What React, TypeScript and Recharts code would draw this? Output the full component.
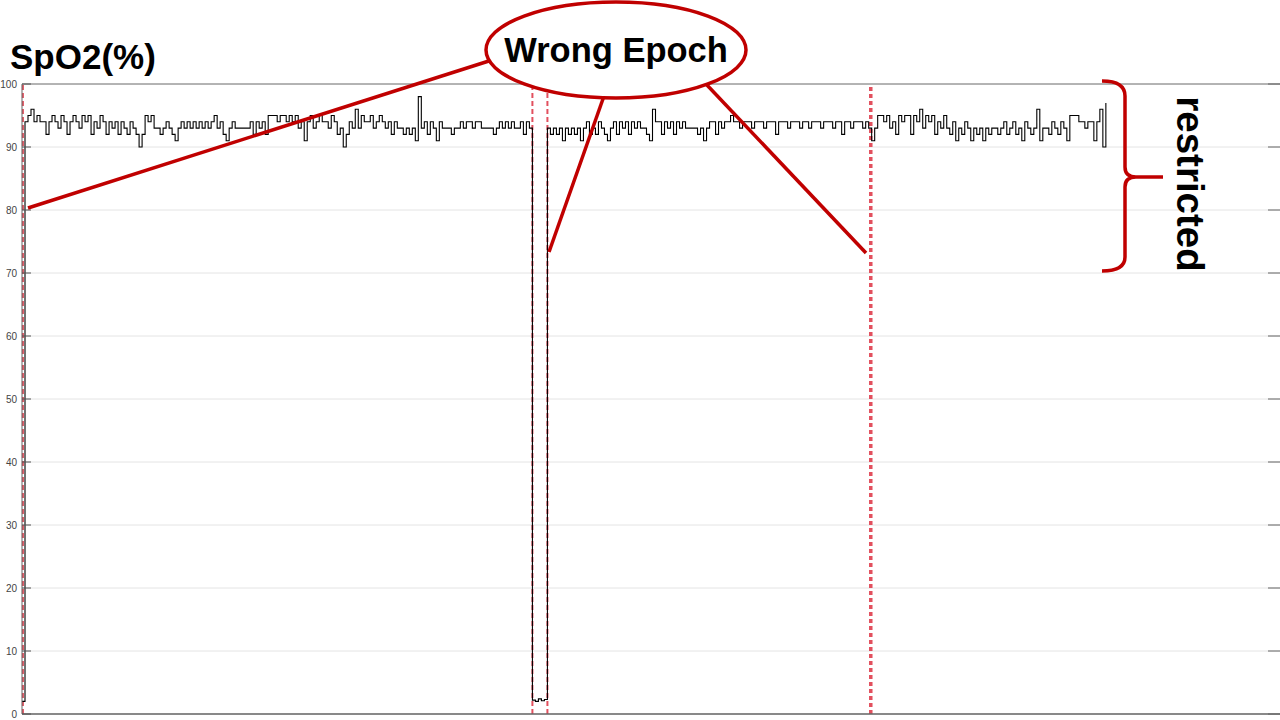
import { LineChart, Line, XAxis, YAxis, CartesianGrid, ReferenceLine } from 'recharts'

// SpO2 samples, one value per epoch step
const leadIn = [2]

const recordingA = [
  94, 95, 96, 94, 95, 94, 94, 92, 94, 95,
  94, 93, 95, 94, 92, 94, 95, 94, 93, 95,
  94, 95, 92, 94, 93, 95, 94, 92, 94, 93,
  94, 92, 94, 93, 92, 94, 93, 92, 90, 92,
  95, 94, 95, 93, 93, 92, 93, 94, 93, 92,
  91, 93, 94, 93, 94, 93, 94, 93, 94, 93,
  94, 93, 94, 95, 93, 94, 92, 91, 93, 94,
  93, 93, 93, 93, 93, 94, 92, 94, 93, 94,
  92, 95, 95, 95, 94, 95, 95, 94, 95, 94,
  95, 93, 94, 91, 94, 95, 93, 94, 95, 94,
  94, 93, 95, 94, 92, 93, 90, 92, 94, 93,
  96, 93, 95, 94, 94, 95, 93, 94, 95, 94,
  93, 94, 92, 94, 93, 93, 92, 93, 92, 93,
  91, 98, 93, 94, 92, 94, 93, 91, 94, 93,
  93, 93, 92, 93, 93, 94, 93, 94, 94, 93,
  94, 94, 93, 93, 93, 93, 92, 93, 94, 93,
  94, 93, 94, 93, 93, 94, 92, 94, 93,
]

const wrongEpoch = [2.2, 2.0, 2.4, 2.1, 2.3]

const recordingB = [
  93, 92, 93, 92, 93, 91, 93, 92, 93, 92,
  93, 91, 93, 94, 92, 93, 92, 94, 93, 92,
  91, 93, 94, 92, 94, 93, 94, 92, 94, 93,
  94, 93, 93, 92, 91, 96, 94, 94, 92, 94,
  93, 94, 92, 94, 93, 94, 93, 93, 93, 93,
  92, 93, 91, 93, 94, 94, 92, 94, 93, 94,
  94, 95, 94, 94, 93, 94, 94, 94, 93, 94,
  94, 94, 93, 94, 94, 94, 92, 94, 94, 94,
  93, 94, 94, 94, 93, 94, 94, 93, 94, 94,
  94, 93, 94, 94, 94, 93, 94, 94, 92, 94,
  94, 93, 94, 94, 94, 93, 94, 93, 91, 93,
  95, 95, 94, 95, 93, 94, 92, 95, 94, 95,
  95, 92, 95, 94, 96, 93, 95, 94, 95, 92,
  94, 93, 95, 93, 92, 94, 91, 93, 92, 94,
  93, 91, 93, 92, 93, 91, 93, 92, 93, 93,
  92, 93, 94, 92, 93, 94, 92, 93, 91, 94,
  93, 92, 93, 96, 91, 93, 93, 92, 94, 93,
  92, 94, 93, 91, 95, 95, 95, 94, 94, 93,
  94, 94, 91, 94, 96, 90, 97,
]

const yTicks = [0, 10, 20, 30, 40, 50, 60, 70, 80, 90, 100]
const epochMarks = [0.3, 170, 175]
const restrictedMark = 282.7
const xMax = 419

const samples = [...leadIn, ...recordingA, ...wrongEpoch, ...recordingB]
const data = samples.map((v, t) => ({ t, v }))

const RED = '#c00000'
const DASH = '#e2505e'
const FONT = 'Liberation Sans, Arial, sans-serif'

// label on the left, short inward ticks on both frame sides
function FrameTick(props: any) {
  const { x, y, payload } = props
  return (
    <g>
      <text x={x} y={y} dy={3.5} textAnchor="end" fontSize={10} fill="#444" fontFamily={FONT}>
        {payload.value}
      </text>
      <line x1={x + 5} x2={x + 14} y1={y} y2={y} stroke="#555" />
      <line x1={1268} x2={1280} y1={y} y2={y} stroke="#666" />
    </g>
  )
}

export default function App() {
  return (
    <div style={{ position: 'absolute', left: 0, top: 0, width: 1280, height: 720, background: '#fff', overflow: 'hidden' }}>
      <LineChart width={1280} height={720} data={data} margin={{ top: 84, right: 0, bottom: 0, left: 0 }}>
        <CartesianGrid vertical={false} stroke="#e4e4e4" />
        <XAxis
          dataKey="t"
          type="number"
          domain={[0, xMax]}
          allowDataOverflow
          height={6}
          tick={false}
          tickLine={false}
          axisLine={{ stroke: '#666', strokeWidth: 1.5 }}
        />
        <YAxis
          type="number"
          domain={[0, 100]}
          ticks={yTicks}
          width={22}
          tickSize={0}
          tickMargin={5}
          tickLine={false}
          tick={<FrameTick />}
          axisLine={{ stroke: '#666' }}
          interval={0}
        />
        <ReferenceLine y={100} stroke="#777" />
        {epochMarks.map((m) => (
          <ReferenceLine key={m} x={m} stroke={DASH} strokeWidth={2} strokeDasharray="5 3" />
        ))}
        <ReferenceLine x={restrictedMark} stroke={DASH} strokeWidth={3.5} strokeDasharray="4 3" />
        <Line
          type="stepAfter"
          dataKey="v"
          stroke="#000"
          strokeWidth={1.1}
          dot={false}
          isAnimationActive={false}
        />
      </LineChart>

      <svg width={1280} height={720} style={{ position: 'absolute', left: 0, top: 0, pointerEvents: 'none' }}>
        <text x={10} y={69} fontSize={35} fontWeight="bold" fontFamily={FONT} fill="#000">
          SpO2(%)
        </text>

        <g stroke={RED} strokeWidth={3.5} fill="none">
          <line x1={492} y1={60} x2={28} y2={208} />
          <line x1={604} y1={96} x2={549} y2={252} />
          <line x1={706} y1={84} x2={866} y2={253} />
        </g>
        <ellipse cx={616} cy={50} rx={130} ry={48} fill="#fff" stroke={RED} strokeWidth={3.5} />
        <text x={616} y={62} textAnchor="middle" fontSize={34.5} fontWeight="bold" fontFamily={FONT} fill="#000">
          Wrong Epoch
        </text>

        <path
          d="M1102,81 Q1125,81 1125,96 L1125,167 Q1125,177 1136,177 L1163,177 M1136,177 Q1125,177 1125,187 L1125,257 Q1125,271 1102,271"
          stroke={RED}
          strokeWidth={3.5}
          fill="none"
        />
        <text
          x={1190}
          y={184}
          transform="rotate(90 1190 184)"
          textAnchor="middle"
          dominantBaseline="central"
          fontSize={38.5}
          fontWeight="bold"
          fontFamily={FONT}
          fill="#000"
        >
          restricted
        </text>
      </svg>
    </div>
  )
}
